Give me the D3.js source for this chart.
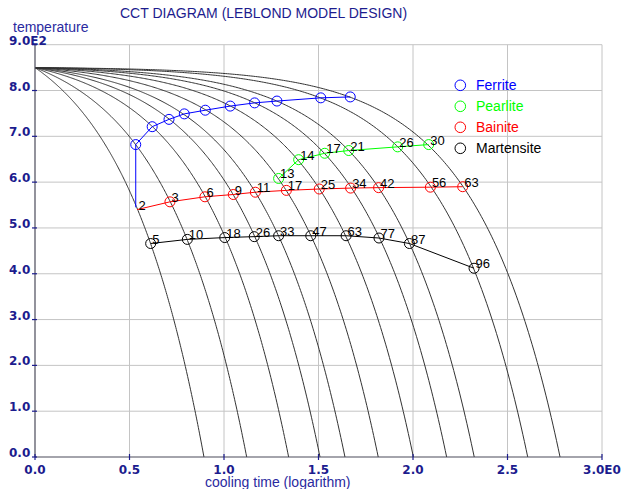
<!DOCTYPE html>
<html><head><meta charset="utf-8">
<script src="https://cdn.jsdelivr.net/npm/d3@7"></script>
<style>body{margin:0;background:#fff}svg{display:block}</style>
</head><body>
<svg id="c" width="629" height="489"></svg>
<script>
// ---- data ----
const startTemp = 850;
// log10 of cooling time at which each cooling curve reaches 0 °C
const coolingEnds = [0.894, 1.12, 1.342, 1.508, 1.64, 1.816, 2.002, 2.178, 2.324, 2.607, 2.778];

const ferriteX = [0.533, 0.533, 0.620, 0.709, 0.790, 0.901, 1.033, 1.162, 1.280, 1.512, 1.668];
const ferriteT = [545, 682, 721, 737, 749, 757, 766, 773, 777, 784, 786];
const ferriteMarked = [false, true, true, true, true, true, true, true, true, true, true];

const pearliteX = [1.289, 1.395, 1.533, 1.660, 1.919, 2.083];
const pearliteT = [608, 649, 663, 669, 677, 682];
const pearliteLabels = ["13", "14", "17", "21", "26", "30"];

const bainiteX = [0.540, 0.714, 0.899, 1.049, 1.166, 1.330, 1.504, 1.670, 1.818, 2.092, 2.263];
const bainiteT = [540, 557, 568, 573, 578, 582, 585, 587, 588, 589, 590];
const bainiteLabels = ["2", "3", "6", "9", "11", "17", "25", "34", "42", "56", "63"];
const bainiteMarked = [false, true, true, true, true, true, true, true, true, true, true];

const martensiteX = [0.612, 0.806, 1.004, 1.160, 1.289, 1.459, 1.646, 1.820, 1.981, 2.323];
const martensiteT = [466, 475, 479, 481, 483, 483, 483, 478, 466, 412];
const martensiteLabels = ["5", "10", "18", "26", "33", "47", "63", "77", "87", "96"];

const legendNames = ["Ferrite", "Pearlite", "Bainite", "Martensite"];
const legendColors = ["#0000ff", "#00ff00", "#ff0000", "#000000"];

const xTicks = [0, 0.5, 1, 1.5, 2, 2.5, 3];
const xTickLabels = ["0.0", "0.5", "1.0", "1.5", "2.0", "2.5", "3.0E0"];
const yTicks = [0, 100, 200, 300, 400, 500, 600, 700, 800, 900];
const yTickLabels = ["0.0", "1.0", "2.0", "3.0", "4.0", "5.0", "6.0", "7.0", "8.0", "9.0E2"];

// ---- drawing ----
const svg = d3.select("#c");
const x = d3.scaleLinear().domain([0, 3]).range([35, 602]);
const y = d3.scaleLinear().domain([0, 900]).range([457, 44.7]);
const navy = "#1c1c8e";
const font = "'Liberation Sans', Arial, sans-serif";

// grid
svg.append("g").selectAll("line").data(xTicks.slice(1)).join("line")
  .attr("x1", d => x(d)).attr("x2", d => x(d)).attr("y1", y(0)).attr("y2", y(900))
  .attr("stroke", "#c4c4c4").attr("stroke-width", 1);
svg.append("g").selectAll("line").data(yTicks.slice(1)).join("line")
  .attr("y1", d => y(d)).attr("y2", d => y(d)).attr("x1", x(0)).attr("x2", x(3))
  .attr("stroke", "#c4c4c4").attr("stroke-width", 1);

// clip
svg.append("clipPath").attr("id", "clip").append("rect")
  .attr("x", x(0)).attr("y", y(900)).attr("width", x(3) - x(0)).attr("height", y(0) - y(900));

// cooling curves
const curveLine = d3.line().x(d => x(d[0])).y(d => y(d[1]));
const gc = svg.append("g").attr("clip-path", "url(#clip)");
coolingEnds.forEach(xe => {
  const tEnd = Math.pow(10, xe) - 1;
  const pts = d3.range(0, 301).map(i => {
    const lx = xe * i / 300;
    return [lx, startTemp * (1 - (Math.pow(10, lx) - 1) / tEnd)];
  });
  gc.append("path").attr("d", curveLine(pts)).attr("fill", "none")
    .attr("stroke", "#333").attr("stroke-width", 1);
});

// axes
svg.append("line").attr("x1", x(0)).attr("x2", x(0)).attr("y1", y(0)).attr("y2", y(900))
  .attr("stroke", "#4a4a5a").attr("stroke-width", 1.2);
svg.append("line").attr("x1", x(0)).attr("x2", x(3)).attr("y1", y(0)).attr("y2", y(0))
  .attr("stroke", "#4a4a5a").attr("stroke-width", 1.2);
svg.append("g").selectAll("line").data(yTicks).join("line")
  .attr("x1", x(0) - 3).attr("x2", x(0) + 2).attr("y1", d => y(d)).attr("y2", d => y(d))
  .attr("stroke", navy).attr("stroke-width", 1.2);
svg.append("g").selectAll("line").data(xTicks).join("line")
  .attr("x1", d => x(d)).attr("x2", d => x(d)).attr("y1", y(0) - 3).attr("y2", y(0) + 3)
  .attr("stroke", navy).attr("stroke-width", 1.2);

svg.append("g").selectAll("text").data(yTicks).join("text")
  .attr("x", 9).attr("y", d => y(d))
  .attr("font-family", "'DejaVu Sans', sans-serif").attr("font-weight", "bold").attr("font-size", 12)
  .attr("fill", navy).text((d, i) => yTickLabels[i]);
svg.append("g").selectAll("text").data(xTicks).join("text")
  .attr("x", d => x(d)).attr("y", 474).attr("text-anchor", "middle")
  .attr("font-family", "'DejaVu Sans', sans-serif").attr("font-weight", "bold").attr("font-size", 12)
  .attr("fill", navy).text((d, i) => xTickLabels[i]);

// titles
svg.append("text").attr("x", 120).attr("y", 18).attr("font-family", font).attr("font-size", 14)
  .attr("fill", navy).text("CCT DIAGRAM (LEBLOND MODEL DESIGN)");
svg.append("text").attr("x", 13).attr("y", 32).attr("font-family", font).attr("font-size", 14)
  .attr("fill", "#2a2aa0").text("temperature");
svg.append("text").attr("x", 205).attr("y", 487).attr("font-family", font).attr("font-size", 14)
  .attr("fill", "#2a2aa0").text("cooling time (logarithm)");

// series
function drawSeries(xs, ts, color, marked, labels) {
  const pts = xs.map((v, i) => [v, ts[i]]);
  svg.append("path").attr("d", curveLine(pts)).attr("fill", "none")
    .attr("stroke", color).attr("stroke-width", 1);
  const g = svg.append("g");
  pts.forEach((p, i) => {
    if (!marked || marked[i]) {
      g.append("circle").attr("cx", x(p[0])).attr("cy", y(p[1])).attr("r", 5)
        .attr("fill", "none").attr("stroke", color).attr("stroke-width", 1);
    }
    if (labels) {
      g.append("text").attr("x", x(p[0]) + 1.5).attr("y", y(p[1]))
        .attr("font-family", font).attr("font-size", 13).attr("fill", "#000").text(labels[i]);
    }
  });
}
drawSeries(ferriteX, ferriteT, legendColors[0], ferriteMarked, null);
drawSeries(pearliteX, pearliteT, legendColors[1], null, pearliteLabels);
drawSeries(bainiteX, bainiteT, legendColors[2], bainiteMarked, bainiteLabels);
drawSeries(martensiteX, martensiteT, legendColors[3], null, martensiteLabels);

// legend
const lg = svg.append("g");
legendNames.forEach((n, i) => {
  const cy = 85.3 + i * 21;
  lg.append("circle").attr("cx", 460.3).attr("cy", cy).attr("r", 5.3)
    .attr("fill", "none").attr("stroke", legendColors[i]).attr("stroke-width", 1);
  lg.append("text").attr("x", 476).attr("y", cy + 5).attr("font-family", font).attr("font-size", 14)
    .attr("fill", legendColors[i]).text(n);
});
</script>
</body></html>
